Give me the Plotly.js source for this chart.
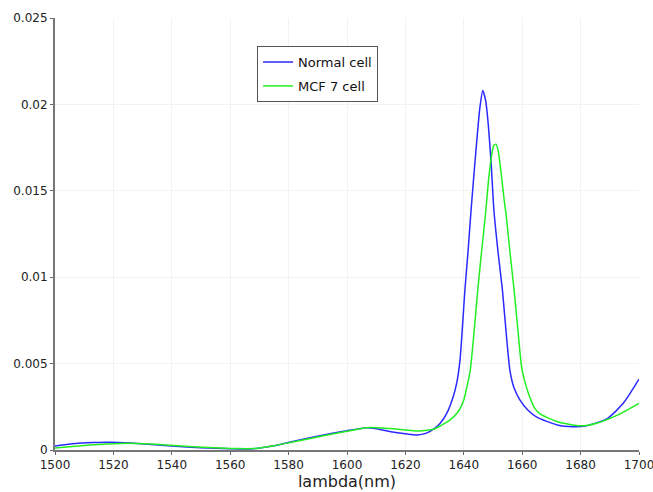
<!DOCTYPE html>
<html>
<head>
<meta charset="utf-8">
<script src="https://cdn.plot.ly/plotly-3.0.1.min.js"></script>
<style>html,body{margin:0;padding:0;background:#fff;}#chart{width:653px;height:492px;}</style>
</head>
<body>
<div id="chart"></div>
<script>
// Normal cell
const normalX = [1500,1507,1513,1519,1526,1533,1540,1550,1560,1567,1575,1581,1592,1600,1606,1609,1615,1620,1624,1627,1630,1632,1634.1,1636.4,1637.6,1638.7,1640.4,1641.5,1642.5,1643.5,1644.5,1645.5,1646.5,1647.5,1648.4,1649.4,1650.3,1651.7,1653.2,1654.5,1655.8,1657.2,1659.2,1662,1665,1672,1677.5,1682,1689,1694.6,1700];
const normalY = [0.00023,0.00038,0.00043,0.00045,0.00040,0.00032,0.00023,0.00013,0.00007,0.00006,0.00025,0.00048,0.00087,0.00112,0.00128,0.00126,0.00106,0.00094,0.00087,0.00096,0.00125,0.00156,0.0021,0.0031,0.0039,0.0052,0.0093,0.0116,0.0139,0.0160,0.0180,0.0198,0.0208,0.0202,0.0188,0.0165,0.0139,0.0115,0.0093,0.0068,0.0046,0.0036,0.0029,0.0023,0.0019,0.00145,0.00135,0.0014,0.0018,0.0027,0.0041];
// MCF 7 cell
const mcfX = [1500,1506,1512,1518,1525,1531,1538,1546,1555,1562,1568,1575,1581,1592,1600,1605,1608,1612,1615,1620,1624,1628,1630,1632,1635,1638,1640,1641,1642.2,1643.5,1644.8,1646.1,1647.4,1648.4,1649.3,1650.2,1651,1651.8,1652.8,1653.8,1654.5,1655.9,1657.2,1658.5,1659.8,1661,1662.1,1664,1666,1672,1680,1685.5,1692.4,1700];
const mcfY = [0.00012,0.00020,0.00029,0.00035,0.00039,0.00036,0.00029,0.00020,0.00013,0.00008,0.00008,0.00025,0.00045,0.00083,0.00108,0.00125,0.0013,0.00128,0.00124,0.00116,0.0011,0.00116,0.00122,0.0014,0.0017,0.0022,0.0029,0.0036,0.0046,0.0068,0.0093,0.0115,0.0136,0.0155,0.0168,0.0176,0.0177,0.0173,0.0160,0.0145,0.0136,0.0113,0.0093,0.0070,0.0048,0.0039,0.0033,0.0025,0.0021,0.00164,0.0014,0.00155,0.0020,0.0027];

const xTicks = [1500,1520,1540,1560,1580,1600,1620,1640,1660,1680,1700];
const yTicks = [0,0.005,0.01,0.015,0.02,0.025];
const yTickText = ['0','0.005','0.01','0.015','0.02','0.025'];

const traces = [
  {x: normalX, y: normalY, name: 'Normal cell', mode: 'lines', legendgroup: 'a',
   line: {color: '#2a2aff', width: 1.5, shape: 'spline', smoothing: 0.6}},
  {x: mcfX, y: mcfY, name: 'MCF 7 cell', mode: 'lines', legendgroup: 'b',
   line: {color: '#22ee22', width: 1.5, shape: 'spline', smoothing: 0.6}}
];

const layout = {
  width: 653, height: 492,
  margin: {l: 55, r: 14, t: 18, b: 42},
  paper_bgcolor: '#fff', plot_bgcolor: '#fff',
  font: {family: 'DejaVu Sans, sans-serif', size: 12, color: '#222'},
  showlegend: true,
  legend: {x: 0.346, y: 0.935, xanchor: 'left', yanchor: 'top',
    bgcolor: '#fff', bordercolor: '#555', borderwidth: 1,
    font: {size: 13, color: '#111'}, traceorder: 'grouped', tracegroupgap: 4},
  xaxis: {range: [1500, 1700], tickvals: xTicks, ticks: 'outside', ticklen: 3, tickcolor: '#666',
    showline: true, linecolor: '#777', linewidth: 2, showgrid: true, gridcolor: '#f2f2f2',
    zeroline: false, tickfont: {size: 12, color: '#222'}, automargin: false,
    ticklabeloverflow: 'allow',
    title: {text: 'lambda(nm)', font: {size: 16, color: '#222'}, standoff: 2}},
  yaxis: {range: [0, 0.025], tickvals: yTicks, ticktext: yTickText, ticks: 'outside', ticklen: 3, tickcolor: '#666',
    showline: true, linecolor: '#777', linewidth: 2, showgrid: true, gridcolor: '#f2f2f2',
    zeroline: false, tickfont: {size: 12, color: '#222'}, automargin: false, ticklabeloverflow: 'allow'}
};

Plotly.newPlot('chart', traces, layout, {staticPlot: true, displayModeBar: false});
</script>
</body>
</html>
